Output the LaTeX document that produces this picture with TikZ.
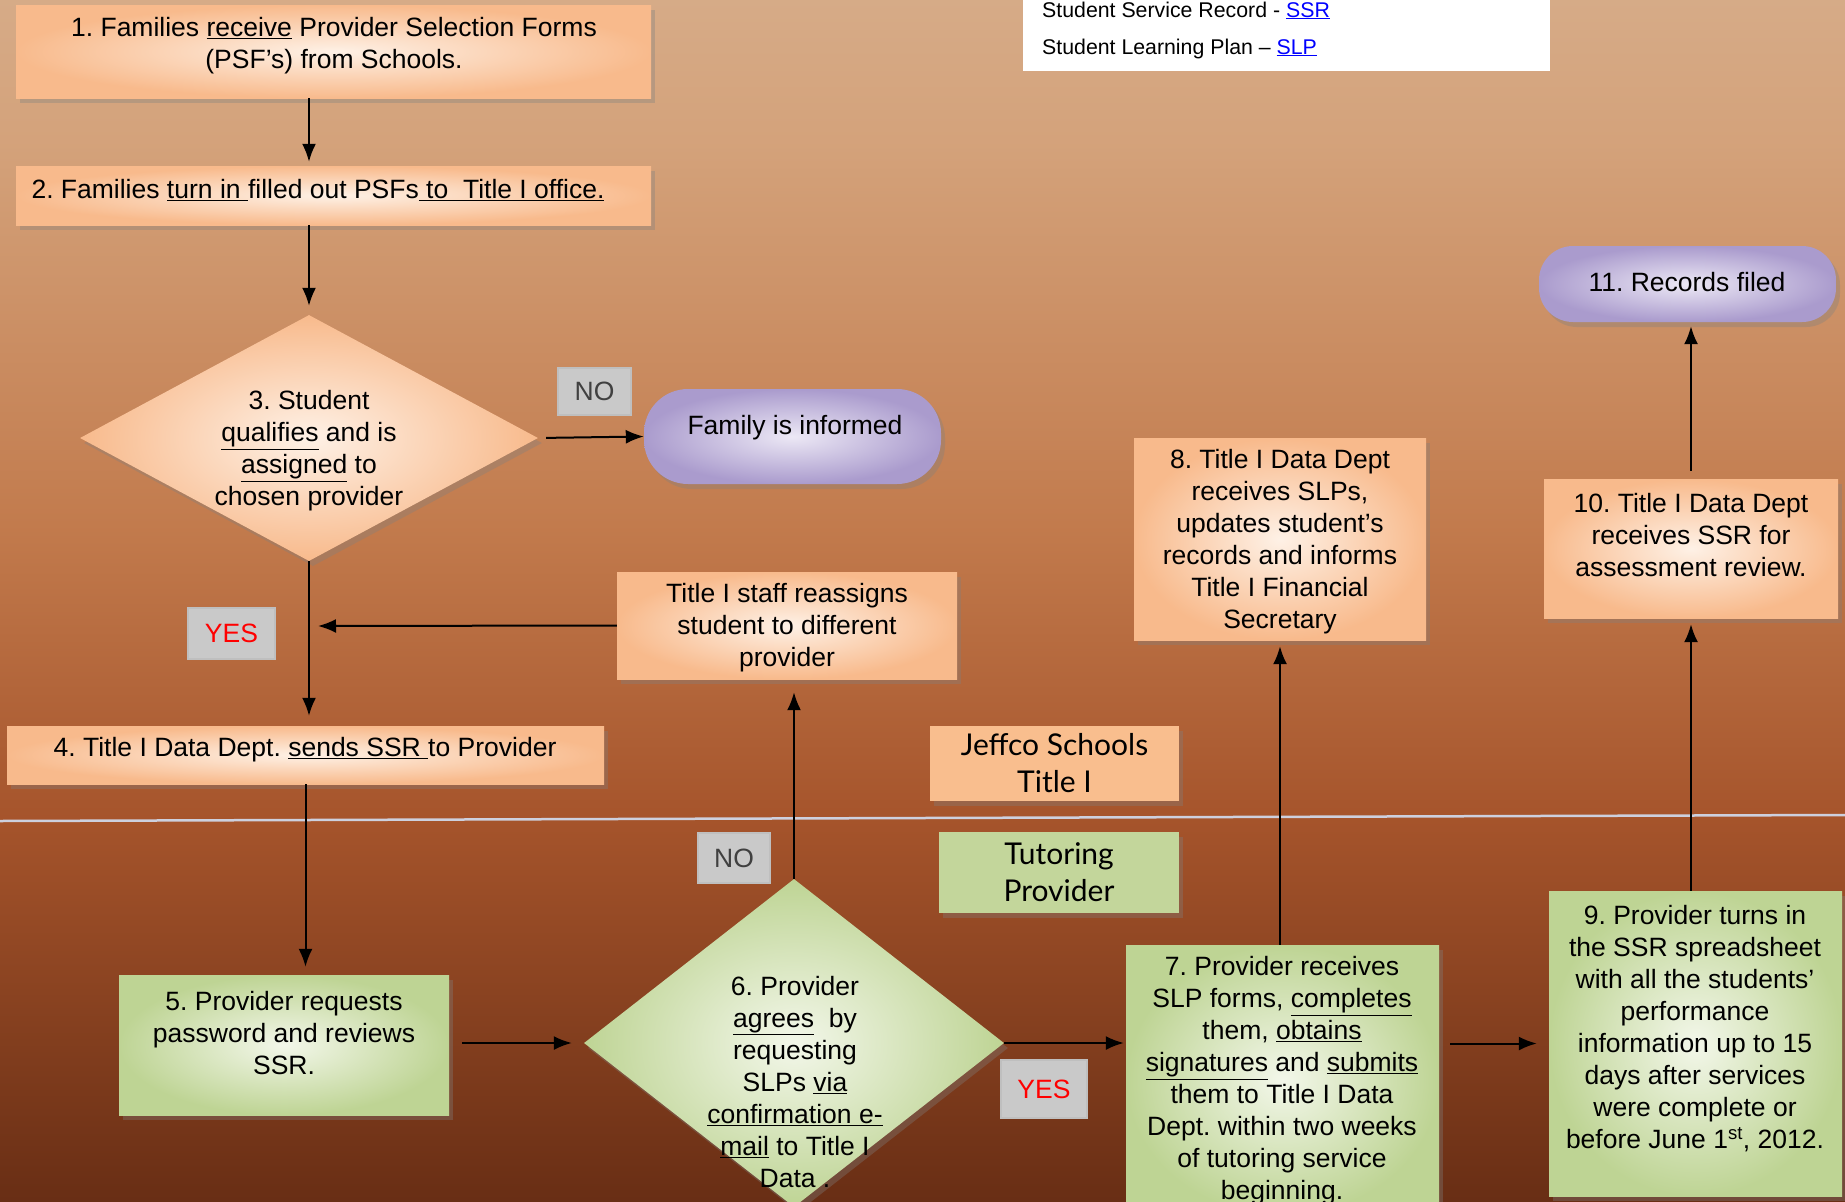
\documentclass[tikz,border=0pt]{standalone}
\usepackage{fontspec}
\setmainfont{Liberation Sans}
\newfontfamily\handfont{Lato}
\usetikzlibrary{arrows.meta,shapes.geometric,shadows}
\frenchspacing

\definecolor{peach}{RGB}{248,186,140}
\definecolor{peachlite}{RGB}{254,241,230}
\definecolor{sage}{RGB}{190,212,148}
\definecolor{sagelite}{RGB}{243,247,234}
\definecolor{lilac}{RGB}{170,155,205}
\definecolor{lilaclite}{RGB}{236,232,245}
\definecolor{tagfill}{RGB}{201,201,201}
\definecolor{lanepeach}{RGB}{249,190,142}
\definecolor{lanegreen}{RGB}{195,214,155}
\definecolor{divide}{RGB}{205,208,222}
\definecolor{ssrblue}{RGB}{0,0,255}

\pgfdeclareverticalshading{backdrop}{100bp}{rgb(0bp)=(0.41,0.18,0.08); rgb(25bp)=(0.41,0.18,0.08); rgb(41bp)=(0.65,0.33,0.17); rgb(53bp)=(0.76,0.48,0.30); rgb(69bp)=(0.83,0.635,0.48); rgb(75bp)=(0.84,0.67,0.53); rgb(100bp)=(0.84,0.67,0.53)}

\newcommand{\boxfont}{\fontsize{26.5}{32}\selectfont}
\newcommand{\lanefont}{\handfont\fontsize{30}{37}\selectfont}

\tikzset{
  softshadow/.style={drop shadow={shadow xshift=4pt, shadow yshift=-5pt, opacity=.35}},
  peachbox/.style={rectangle, inner sep=0pt, inner color=peachlite, outer color=peach, softshadow},
  greenbox/.style={peachbox, inner color=sagelite, outer color=sage},
  pill/.style={rectangle, rounded corners=34pt, inner sep=0pt, inner color=lilaclite, outer color=lilac, softshadow},
  choice/.style={diamond, inner sep=0pt, softshadow},
  boxtext/.style={align=center, inner sep=0pt, font=\boxfont, yshift=-3pt},
  tag/.style={rectangle, fill=tagfill, draw=black!25, line width=1.5pt, inner sep=0pt, font=\boxfont},
  lane/.style={rectangle, align=center, inner sep=0pt, font=\lanefont, softshadow},
  flow/.style={line width=2pt, -{Latex[length=18pt,width=14pt]}}
}

\begin{document}
\begin{tikzpicture}[x=1pt, y=-1pt]
	\useasboundingbox (0,0) rectangle (1845,1202);
	\clip (0,0) rectangle (1845,1202);
	\shade[shading=backdrop] (0,0) rectangle (1845,1202);
	\draw[line width=2.5pt, color=divide] (0,821) -- (1845,815);

	% key to the forms
	\fill[white] (1023,-5) rectangle (1550,71);
	\node[anchor=base west, inner sep=0pt, font=\fontsize{21.3}{37}\selectfont] (key1) at (1042,17) {Student Service Record - \textcolor{ssrblue}{\underline{SSR}}};
	\node[anchor=base west, inner sep=0pt, font=\fontsize{21.3}{37}\selectfont] (key2) at (1042,54) {Student Learning Plan – \textcolor{ssrblue}{\underline{SLP}}};

	% Title I side
	\node[peachbox, minimum width=635pt, minimum height=93pt] (s1) at (333.5,51.5) {};
	\node[boxtext] (s1t) at (334,43) {1. Families \underline{receive} Provider Selection Forms\\(PSF’s) from Schools.};
	\node[peachbox, minimum width=635pt, minimum height=59pt] (s2) at (333.5,195.5) {};
	\node[boxtext] (s2t) at (318,187) {2. Families \underline{turn in }filled out PSFs\underline{ to\ \ Title I office.}};
	\node[choice, inner color=peachlite, outer color=peach, minimum width=458pt, minimum height=246pt] (s3) at (309,438) {};
	\node[boxtext] (s3t) at (309,448) {3. Student\\\underline{qualifies} and is\\\underline{assigned} to\\chosen provider};
	\node[tag, minimum width=73pt, minimum height=47pt, text=black!75] (no1) at (594.5,391.5) {NO};
	\node[pill, rounded corners=44pt, minimum width=297pt, minimum height=95pt] (fam) at (792.5,436.5) {};
	\node[boxtext] (famt) at (795,425) {Family is informed};
	\node[tag, minimum width=87pt, minimum height=51pt, text=red] (yes1) at (231.5,633.5) {YES};
	\node[peachbox, minimum width=340pt, minimum height=107pt] (redo) at (787,625.5) {};
	\node[boxtext] (redot) at (787,625) {Title I staff reassigns\\student to different\\provider};
	\node[peachbox, minimum width=597pt, minimum height=58pt] (s4) at (305.5,755) {};
	\node[boxtext] (s4t) at (305,747) {4. Title I Data Dept. \underline{sends SSR }to Provider};
	\node[peachbox, minimum width=292pt, minimum height=202pt] (s8) at (1280,539) {};
	\node[boxtext] (s8t) at (1280,539) {8. Title I Data Dept\\receives SLPs,\\updates student’s\\records and informs\\Title I Financial\\Secretary};
	\node[peachbox, minimum width=294pt, minimum height=139pt] (s10) at (1691,548.5) {};
	\node[boxtext] (s10t) at (1691,532) {10. Title I Data Dept\\receives SSR for\\assessment review.};
	\node[pill, minimum width=297pt, minimum height=76pt] (s11) at (1687.5,284) {};
	\node[boxtext] (s11t) at (1687,279) {11. Records filed};

	% lane names
	\node[lane, fill=lanepeach, minimum width=249pt, minimum height=75pt] (jeffco) at (1054.5,763.5) {Jeffco Schools\\Title I};
	\node[lane, fill=lanegreen, minimum width=240pt, minimum height=81pt] (tutor) at (1059,872.5) {Tutoring\\Provider};

	% provider side
	\node[greenbox, minimum width=330pt, minimum height=140pt] (s5) at (284,1045) {};
	\node[boxtext] (s5t) at (284,1030) {5. Provider requests\\password and reviews\\SSR.};
	\node[choice, inner color=sagelite, outer color=sage, minimum width=420pt, minimum height=328pt] (s6) at (794,1043) {};
	\node[boxtext] (s6t) at (795,1079) {6. Provider\\\underline{agrees}\ \ by\\requesting\\SLPs \underline{via}\\\underline{confirmation e-}\\\underline{mail} to Title I\\Data .};
	\node[tag, minimum width=72pt, minimum height=50pt, text=black!75] (no2) at (734,858) {NO};
	\node[tag, minimum width=86pt, minimum height=58pt, text=red] (yes2) at (1044,1089) {YES};
	\node[greenbox, minimum width=313pt, minimum height=270pt] (s7) at (1282.5,1080) {};
	\node[boxtext] (s7t) at (1282,1078) {7. Provider receives\\SLP forms, \underline{completes}\\them, \underline{obtains}\\\underline{signatures} and \underline{submits}\\them to Title I Data\\Dept. within two weeks\\of tutoring service\\beginning.};
	\node[greenbox, minimum width=293pt, minimum height=305pt] (s9) at (1695.5,1043.5) {};
	\node[boxtext] (s9t) at (1695,1025.5) {9. Provider turns in\\the SSR spreadsheet\\with all the students’\\performance\\information up to 15\\days after services\\were complete or\\before June 1\textsuperscript{st}, 2012.};

	% connectors
	\coordinate (back) at (318,626);
	\draw[flow, shorten >=4pt] (s1.south -| s3.north) -- (s2.north -| s3.north);
	\draw[flow, shorten >=9pt] (s2.south -| s3.north) -- (s3.north);
	\draw[flow, shorten <=8pt] (s3.east) -- (fam.west);
	\draw[flow, shorten >=10pt] (s3.south) -- (s4.north -| s3.south);
	\draw[flow] (redo.west) -- (back);
	\draw[flow, shorten >=8pt] (s4.south) -- (s4.south |- s5.north);
	\draw[flow, shorten <=13pt, shorten >=12pt] (s5.east |- s6.west) -- (s6.west);
	\draw[flow, shorten >=13pt] (s6.north) -- (s6.north |- redo.south);
	\draw[flow, shorten >=2pt] (s6.east) -- (s6.east -| s7.west);
	\draw[flow, shorten >=6pt] (s7.north -| s8.south) -- (s8.south);
	\draw[flow, shorten <=11pt, shorten >=12pt] (s9.west -| s7.east) -- (s9.west);
	\draw[flow, shorten >=6pt] (s9.north -| s10.south) -- (s10.south);
	\draw[flow, shorten <=8pt, shorten >=4pt] (s10.north) -- (s10.north |- s11.south);
\end{tikzpicture}
\end{document}
